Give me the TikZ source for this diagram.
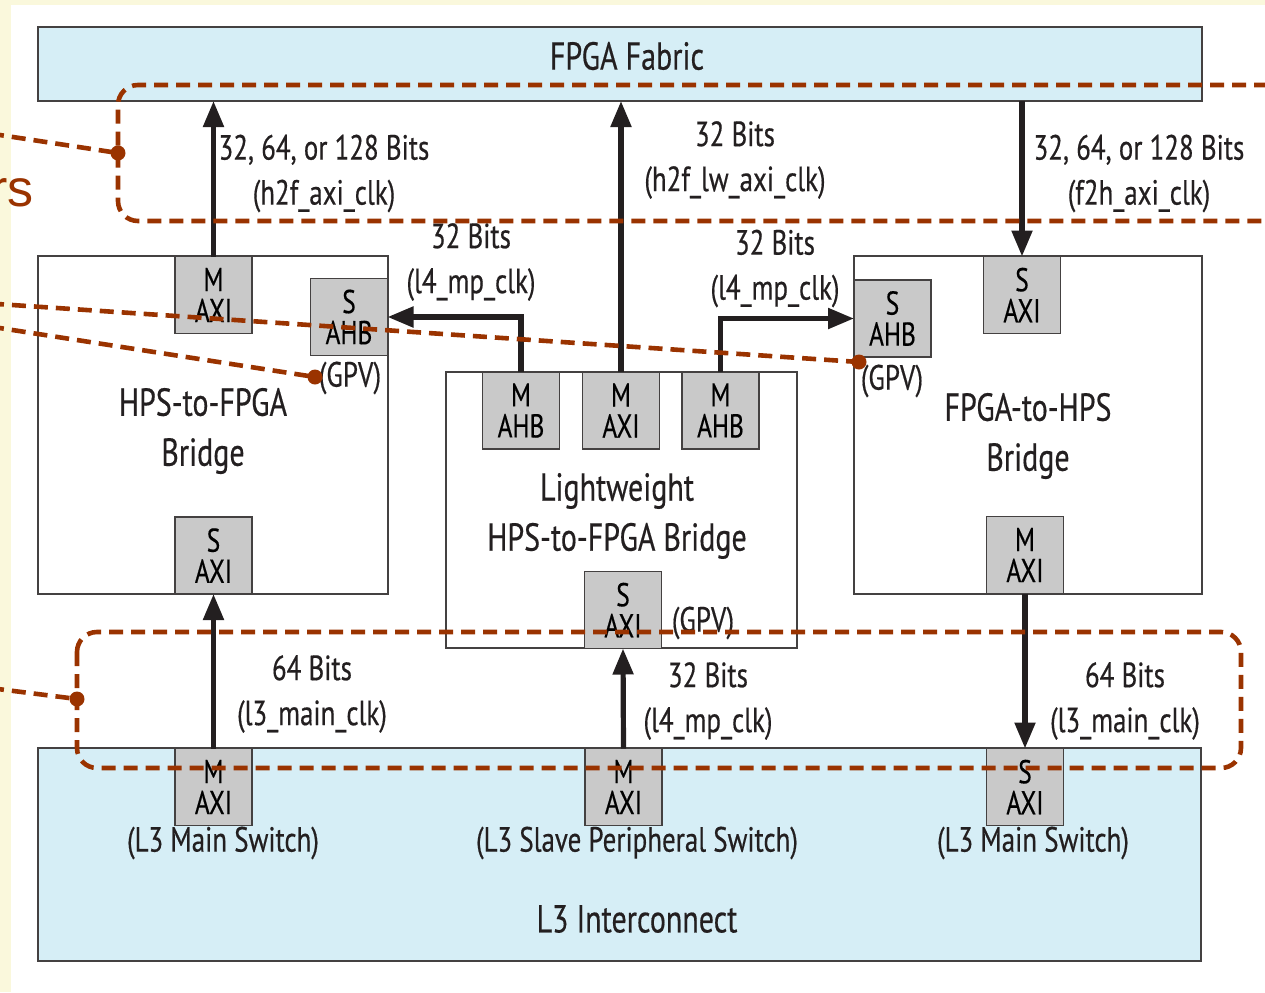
\documentclass[tikz,border=0pt]{standalone}
\usepackage{fontspec}
\setmainfont{PT Sans}[FakeStretch=0.77,FakeBold=0.4]
\newfontfamily\rsfont{Liberation Sans}
\usetikzlibrary{arrows.meta}
\definecolor{bgyellow}{HTML}{FAF8DC}
\definecolor{fabricblue}{HTML}{D6EEF6}
\definecolor{boxgray}{HTML}{C9C9C9}
\definecolor{dashbrown}{HTML}{9A3300}
\definecolor{ink}{HTML}{231F20}
\newcommand\portfont{\fontsize{16.5}{15.5}\selectfont}
\newcommand\lblfont{\fontsize{17.5}{22.5}\selectfont}
\newcommand\titlefont{\fontsize{19.5}{25}\selectfont}
\begin{document}
\begin{tikzpicture}[x=0.5pt,y=-0.5pt,
  bigbox/.style={draw=ink!85, line width=0.8pt, inner sep=0pt, outer sep=0pt},
  port/.style={draw=ink!85, line width=0.8pt, fill=boxgray, minimum width=38.5pt, minimum height=38.5pt, inner sep=0pt, outer sep=0pt, align=center, font=\portfont},
  lbl/.style={align=center, font=\lblfont, inner sep=0pt, text=ink},
  titletext/.style={align=center, font=\titlefont, inner sep=0pt, text=ink},
  arr/.style={draw=ink, line width=2.6pt, -{Triangle[width=10pt,length=13pt]}},
  grp/.style={draw=dashbrown, line width=2.3pt, dash pattern=on 7pt off 4pt, rounded corners=10pt},
  grpline/.style={draw=dashbrown, line width=2.3pt, dash pattern=on 7pt off 4pt},
  dot/.style={circle, fill=dashbrown, minimum size=7.5pt, inner sep=0pt},
]
\useasboundingbox (0,0) rectangle (1265,992);
\clip (0,0) rectangle (1265,992);
\fill[bgyellow] (0,0) rectangle (1265,992);
\fill[white] (11,5) rectangle (1275,1000);

% big blocks
\node[bigbox, fill=fabricblue, minimum width=582pt, minimum height=37pt] (fpga) at (620,64) {};
\node[bigbox, fill=fabricblue, minimum width=581.5pt, minimum height=106.5pt] (l3) at (619.5,854.5) {};
\node[bigbox, fill=white, minimum width=175pt, minimum height=169pt] (h2f) at (213,425) {};
\node[bigbox, fill=white, minimum width=175.5pt, minimum height=138pt] (lw) at (621.5,510) {};
\node[bigbox, fill=white, minimum width=174pt, minimum height=169pt] (f2h) at (1028,425) {};

% titles
\node[titletext] (tfpga) at (627,56) {FPGA Fabric};
\node[titletext] (tl3) at (637,919) {L3 Interconnect};
\node[titletext] (th2f) at (203,431) {HPS-to-FPGA\\Bridge};
\node[titletext] (tlw) at (617,516) {Lightweight\\HPS-to-FPGA Bridge};
\node[titletext] (tf2h) at (1028,436) {FPGA-to-HPS\\Bridge};

% ports
\node[port] (hm) at (213.5,295) {M\\AXI};
\node[port] (hsahb) at (349,317) {S\\AHB};
\node[port] (hsaxi) at (213.5,555.5) {S\\AXI};
\node[port] (lwa) at (521,410.5) {M\\AHB};
\node[port] (lwm) at (621,410.5) {M\\AXI};
\node[port] (lwb) at (720.5,410.5) {M\\AHB};
\node[port] (lws) at (623,610) {S\\AXI};
\node[port] (fsahb) at (892.5,318.5) {S\\AHB};
\node[port] (fsaxi) at (1022,295) {S\\AXI};
\node[port] (fmaxi) at (1025,555) {M\\AXI};
\node[port] (l3a) at (213.5,787) {M\\AXI};
\node[port] (l3b) at (623.5,787) {M\\AXI};
\node[port] (l3c) at (1025,787) {S\\AXI};

% port annotations
\node[lbl] (g1) at (350,378) {(GPV)};
\node[lbl] (g2) at (892,381) {(GPV)};
\node[lbl] (g3) at (703,623) {(GPV)};
\node[lbl] (s1) at (223,843) {(L3 Main Switch)};
\node[lbl] (s2) at (637,843) {(L3 Slave Peripheral Switch)};
\node[lbl] (s3) at (1033,843) {(L3 Main Switch)};

% arrows
\draw[arr] (hm.north) -- (hm.north |- fpga.south);
\draw[arr] (lwm.north) -- (lwm.north |- fpga.south);
\draw[arr] (fpga.south -| fsaxi.north) -- (fsaxi.north);
\draw[arr] (lwa.north) |- (hsahb.east);
\draw[arr] (lwb.north) |- (fsahb.west);
\draw[arr] (l3a.north) -- (hsaxi.south);
\draw[arr] (l3b.north) -- (lws.south);
\draw[arr] (fmaxi.south) -- (l3c.north);

% arrow labels
\node[lbl] (a1) at (324,173.5) {32, 64, or 128 Bits\\(h2f\_axi\_clk)};
\node[lbl] (a2) at (735,160) {32 Bits\\(h2f\_lw\_axi\_clk)};
\node[lbl] (a3) at (1139,173.5) {32, 64, or 128 Bits\\(f2h\_axi\_clk)};
\node[lbl] (a4) at (471,262) {32 Bits\\(l4\_mp\_clk)};
\node[lbl] (a5) at (775,268.5) {32 Bits\\(l4\_mp\_clk)};
\node[lbl] (a6) at (312,694) {64 Bits\\(l3\_main\_clk)};
\node[lbl] (a7) at (708,701) {32 Bits\\(l4\_mp\_clk)};
\node[lbl] (a8) at (1125,701) {64 Bits\\(l3\_main\_clk)};

% dashed callouts
\draw[grp] (1290,85) -- (118,85) -- (118,221) -- (1290,221);
\draw[grp] (77,632) rectangle (1241,768);
\node[dot] (d1) at (118,153) {};
\node[dot] (d2) at (77,699) {};
\node[dot] (d3) at (859,362) {};
\node[dot] (d4) at (315,377) {};
\coordinate (e1) at (-10,133.5);
\coordinate (e2) at (-10,688);
\coordinate (e3) at (-10,303.5);
\coordinate (e4) at (-10,326.5);
\draw[grpline] (e1) -- (d1.center);
\draw[grpline] (e2) -- (d2.center);
\draw[grpline] (e3) -- (d3.center);
\draw[grpline] (e4) -- (d4.center);

\node[anchor=base east, inner sep=0pt, text=dashbrown, font=\rsfont\fontsize{26}{30}\selectfont] (rs) at (34,206) {rs};
\end{tikzpicture}
\end{document}
